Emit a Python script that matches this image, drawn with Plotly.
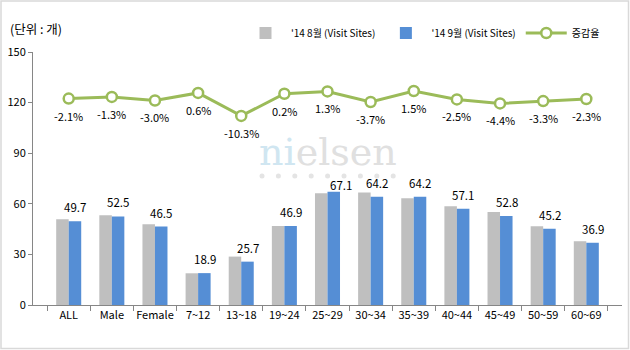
import plotly.graph_objects as go

categories = ["ALL", "Male", "Female", "7~12", "13~18", "19~24", "25~29",
              "30~34", "35~39", "40~44", "45~49", "50~59", "60~69"]
aug_visits = [50.8, 53.2, 47.9, 18.8, 28.7, 46.8, 66.2, 66.7, 63.3, 58.6, 55.2, 46.7, 37.8]
sep_visits = [49.7, 52.5, 46.5, 18.9, 25.7, 46.9, 67.1, 64.2, 64.2, 57.1, 52.8, 45.2, 36.9]
change_pct = [-2.1, -1.3, -3.0, 0.6, -10.3, 0.2, 1.3, -3.7, 1.5, -2.5, -4.4, -3.3, -2.3]
y_ticks = [0, 30, 60, 90, 120, 150]

FONT = "Noto Sans CJK KR"
L, R, T, B = 33, 8, 52, 45
W, H = 630, 350
pw, ph = W - L - R, H - T - B

def px(x):
    return (x - L) / pw

def py(y):
    return (H - B - y) / ph

# label nudges (pixels) – styling only
bar_label_nudge = {"25~29": (7, 7)}

fig = go.Figure()
fig.add_trace(go.Bar(
    x=categories, y=aug_visits, name="'14 8월 (Visit Sites)",
    marker=dict(color="#bfbfbf", line=dict(width=0)),
))
fig.add_trace(go.Bar(
    x=categories, y=sep_visits, name="'14 9월 (Visit Sites)",
    marker=dict(color="#558ed5", line=dict(width=0)),
))
fig.add_trace(go.Scatter(
    x=categories, y=change_pct, name="증감율", yaxis="y2",
    mode="lines+markers",
    line=dict(color="#9bbb59", width=3),
    marker=dict(symbol="circle", size=10, color="#ffffff",
                line=dict(color="#9bbb59", width=2.5)),
    cliponaxis=False,
))

annotations = [
    dict(text="(단위 : 개)", xref="paper", yref="paper", x=px(8), y=py(28),
         xanchor="left", yanchor="middle", showarrow=False,
         font=dict(size=12.5, color="#000000", family=FONT)),
    dict(text="<span style='color:#d0e6f1'>ni</span><span style='color:#e0e0e0'>elsen</span>",
         xref="paper", yref="paper", x=px(328), y=py(152),
         xanchor="center", yanchor="middle", showarrow=False,
         font=dict(size=38, family="DejaVu Serif")),
]
for c, v in zip(categories, sep_visits):
    dx, dy = bar_label_nudge.get(c, (0, 0))
    annotations.append(dict(
        text=f"{v:.1f}", x=c, y=v, xref="x", yref="y", showarrow=False,
        xanchor="center", yanchor="middle", xshift=6.5 + dx, yshift=14 - dy,
        font=dict(size=11.5, color="#000000", family=FONT)))
for c, v in zip(categories, change_pct):
    annotations.append(dict(
        text=f"{v:.1f}%", x=c, y=v, xref="x", yref="y2", showarrow=False,
        xanchor="center", yanchor="middle", yshift=-17,
        font=dict(size=11, color="#000000", family=FONT)))

shapes = [dict(type="rect", xref="paper", yref="paper",
               x0=px(1), x1=px(628.5), y0=py(348.5), y1=py(1),
               line=dict(color="#d9d9d9", width=1.5), fillcolor="rgba(0,0,0,0)",
               layer="below")]
for i in range(9):
    cx = 262 + 16.4 * i
    shapes.append(dict(type="circle", xref="paper", yref="paper",
                       x0=px(cx - 2.5), x1=px(cx + 2.5), y0=py(178.5), y1=py(173.5),
                       line=dict(width=0), fillcolor="#e4e4e4", layer="below"))

fig.update_layout(
    width=W, height=H,
    margin=dict(l=L, r=R, t=T, b=B),
    paper_bgcolor="#ffffff", plot_bgcolor="rgba(0,0,0,0)",
    font=dict(family=FONT, size=11, color="#000000"),
    barmode="group", bargap=0.42, bargroupgap=0,
    showlegend=True,
    legend=dict(orientation="h", x=px(240), y=py(33), xanchor="left", yanchor="middle",
                font=dict(size=10, family=FONT), bgcolor="rgba(0,0,0,0)",
                itemwidth=41, traceorder="normal"),
    xaxis=dict(showline=True, linecolor="#868686", linewidth=1, tickangle=0,
               ticks="outside", ticklen=5, tickcolor="#868686", tickson="boundaries",
               showgrid=False, tickfont=dict(size=11, family=FONT, color="#000000")),
    yaxis=dict(range=[0, 150], tickvals=y_ticks, showline=True, linecolor="#868686",
               linewidth=1, ticks="outside", ticklen=4, tickcolor="#868686",
               showgrid=False, zeroline=False,
               tickfont=dict(size=11, family=FONT, color="#000000")),
    yaxis2=dict(range=[-100, 20], overlaying="y", side="right", visible=False,
                showgrid=False, zeroline=False),
    annotations=annotations,
    shapes=shapes,
)

fig.write_html("out.html")
